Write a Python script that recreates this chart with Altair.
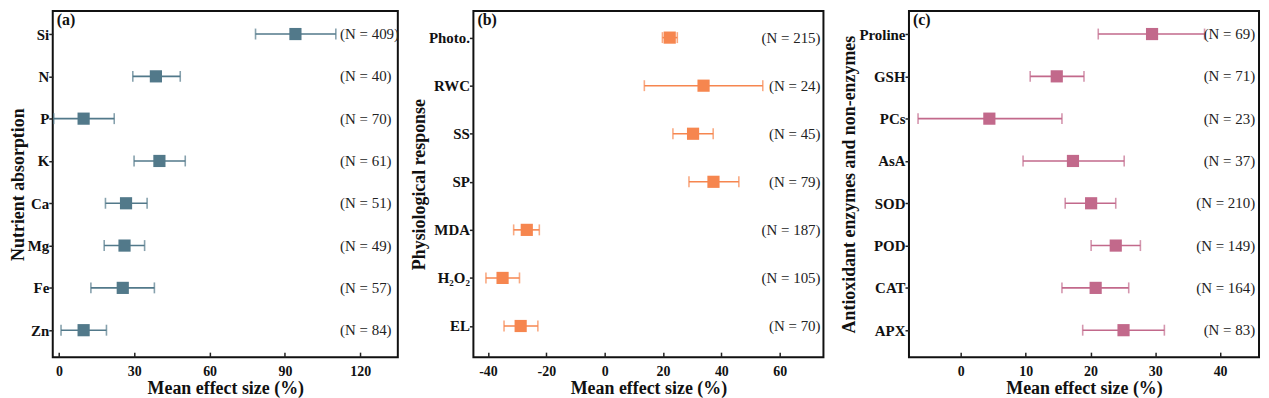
import altair as alt
import pandas as pd

# ---- Panel (a): nutrient absorption ----
a_cat = ["Si", "N", "P", "K", "Ca", "Mg", "Fe", "Zn"]
a_mean = [94.2, 38.6, 9.8, 40.0, 26.7, 26.1, 25.4, 9.8]
a_lo = [78.3, 29.4, -2.1, 29.9, 18.5, 18.0, 12.7, 0.8]
a_hi = [110.3, 48.3, 22.0, 50.3, 35.1, 34.1, 38.0, 18.9]
a_n = [409, 40, 70, 61, 51, 49, 57, 84]

# ---- Panel (b): physiological response ----
b_cat = ["Photo.", "RWC", "SS", "SP", "MDA", "H₂O₂", "EL"]
b_mean = [22.3, 33.9, 30.3, 37.3, -26.7, -35.0, -28.8]
b_lo = [19.8, 13.6, 23.4, 28.9, -31.2, -40.7, -34.5]
b_hi = [24.9, 54.2, 37.2, 46.0, -22.4, -29.2, -22.9]
b_n = [215, 24, 45, 79, 187, 105, 70]

# ---- Panel (c): antioxidant enzymes and non-enzymes ----
c_cat = ["Proline", "GSH", "PCs", "AsA", "SOD", "POD", "CAT", "APX"]
c_mean = [29.5, 14.8, 4.4, 17.3, 20.1, 23.9, 20.8, 25.1]
c_lo = [21.2, 10.7, -6.6, 9.6, 16.1, 20.1, 15.6, 18.8]
c_hi = [37.6, 19.0, 15.6, 25.2, 23.9, 27.7, 25.9, 31.4]
c_n = [69, 71, 23, 37, 210, 149, 164, 83]

SERIF = "Liberation Serif"
XTITLE = "Mean effect size (%)"
H = 348


def panel(cats, mean, lo, hi, n, color, domain, ticks, ytitle, letter,
          width, label_x, label_align, pad, align):
    df = pd.DataFrame({
        "cat": cats, "mean": mean, "lo": lo, "hi": hi,
        "label": [f"(N = {v})" for v in n],
    })
    xscale = alt.Scale(domain=domain, nice=False, zero=False)
    xaxis = alt.Axis(values=ticks, title=XTITLE, grid=False, domain=False,
                     tickSize=5, offset=-5, labelPadding=7, tickWidth=1.5,
                     tickColor="#222", labelFont=SERIF, labelFontSize=14,
                     labelFontWeight="bold", labelColor="#111",
                     labelExpr="'' + datum.value",
                     titleFont=SERIF, titleFontSize=18, titleFontWeight="bold",
                     titleColor="#111", titlePadding=2)
    y = alt.Y("cat:N",
              scale=alt.Scale(type="point", domain=cats, padding=pad,
                              align=align),
              axis=alt.Axis(title=ytitle, grid=False, domain=False, tickSize=4,
                            tickWidth=1.5, tickColor="#222", labelPadding=0,
                            labelFont=SERIF, labelFontSize=15,
                            labelFontWeight="bold", labelColor="#111",
                            titleFont=SERIF, titleFontSize=18,
                            titleFontWeight="bold", titleColor="#111",
                            titlePadding=0))
    base = alt.Chart(df)
    rule = base.mark_rule(color=color, strokeWidth=1.6).encode(
        x=alt.X("lo:Q", scale=xscale, axis=xaxis, title=XTITLE),
        x2="hi:Q", y=y)
    cap_lo = base.mark_tick(color=color, thickness=1.6, size=11).encode(
        x=alt.X("lo:Q", scale=xscale, title=XTITLE), y=y)
    cap_hi = base.mark_tick(color=color, thickness=1.6, size=11).encode(
        x=alt.X("hi:Q", scale=xscale, title=XTITLE), y=y)
    sq = base.mark_square(color=color, size=150, opacity=1).encode(
        x=alt.X("mean:Q", scale=xscale, title=XTITLE), y=y)
    txt = base.mark_text(align=label_align, baseline="middle", font=SERIF,
                         fontSize=15, color="#222").encode(
        x=alt.datum(label_x), y=y, text="label:N")
    let = alt.Chart(pd.DataFrame({"t": [letter]})).mark_text(
        align="left", baseline="middle", font=SERIF, fontSize=16,
        fontWeight="bold", color="#111").encode(
        x=alt.value(4), y=alt.value(9), text="t:N")
    return alt.layer(rule, cap_lo, cap_hi, sq, txt, let).properties(
        width=width, height=H)


pa = panel(a_cat, a_mean, a_lo, a_hi, a_n, "#52798a", [-2.5, 135],
           [0, 30, 60, 90, 120], "Nutrient absorption", "(a)", 347, 112,
           "left", 0.59, 0.46)
pb = panel(b_cat, b_mean, b_lo, b_hi, b_n, "#f6864f", [-45, 75],
           [-40, -20, 0, 20, 40, 60], "Physiological response", "(b)", 352,
           74, "right", 0.60, 0.46)
pc = panel(c_cat, c_mean, c_lo, c_hi, c_n, "#c2698b", [-8, 46],
           [0, 10, 20, 30, 40], "Antioxidant enzymes and non-enzymes", "(c)",
           352, 45.4, "right", 0.59, 0.46)

chart = alt.hconcat(
    alt.hconcat(pa, pb, spacing=8), pc, spacing=15
).properties(
    padding={"left": 0, "top": 1, "right": 1, "bottom": 0}
).configure_view(stroke="#111", strokeWidth=2)

chart.save("out.html", embed_options={"renderer": "svg", "actions": False})
